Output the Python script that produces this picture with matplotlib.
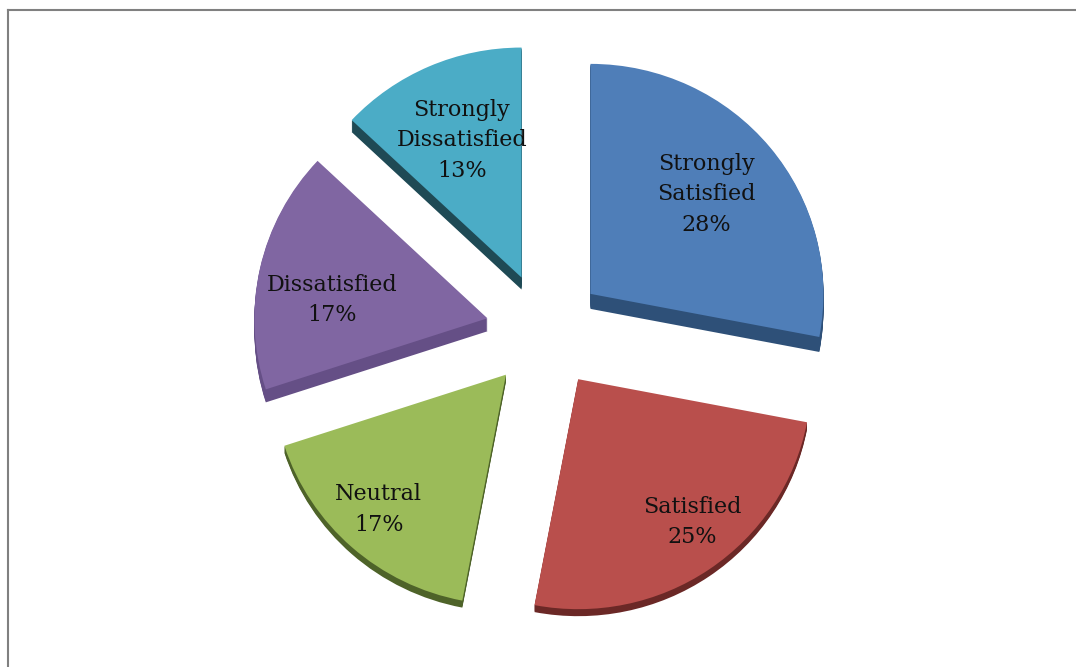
import numpy as np
import matplotlib.pyplot as plt
from matplotlib.lines import Line2D

# survey answers, clockwise from 12 o'clock
categories = ['Strongly\nSatisfied', 'Satisfied', 'Neutral', 'Dissatisfied', 'Strongly\nDissatisfied']
shares = [28, 25, 17, 17, 13]

face_colors = ['#4F7EB8', '#B94F4C', '#9BBB59', '#8066A2', '#4BACC6']
side_colors = ['#2E5078', '#6B2826', '#4E6329', '#654F86', '#1F4A55']
side_depth = [15, 7, 7, 13, 12]          # visible thickness of each slice, px
label_radius = [0.66, 0.79, 0.80, 0.67, 0.65]
label_turn = [-1.3, -4.0, 1.6, -5.8, 0.2]  # degrees off each slice's mid angle

W, H = 1076, 667
fig = plt.figure(figsize=(W / 100, H / 100), dpi=100)
ax = fig.add_axes([0, 0, 1, 1])

rx, ry = 233, 230        # pie radius in pixels (horizontal / vertical)
cx, cy = 545, 331        # pie centre in pixels from top-left
explode = [59 / rx] * len(shares)

pie_kw = dict(explode=explode, startangle=90, counterclock=False,
              wedgeprops=dict(linewidth=0))

# extruded sides: stack darker copies shifted downwards
for step in range(max(side_depth), 0, -1):
    wedges, _ = ax.pie(shares, colors=side_colors, center=(0, -step / ry), **pie_kw)
    for w, d in zip(wedges, side_depth):
        w.set_visible(step <= d)

# top faces
ax.pie(shares, colors=face_colors, center=(0, 0), **pie_kw)

# labels inside each slice
vals = np.array(shares, dtype=float)
cum = np.concatenate([[0], np.cumsum(vals)])
mid = 360 * (cum[:-1] + vals / 2) / vals.sum()   # clockwise from top
for name, v, t, ex, lr, turn in zip(categories, shares, mid, explode, label_radius, label_turn):
    a0 = np.deg2rad(90 - t)
    a1 = np.deg2rad(90 - t - turn)
    x = ex * np.cos(a0) + lr * np.cos(a1)
    y = ex * np.sin(a0) + lr * np.sin(a1)
    ax.text(x, y, f'{name}\n{v}%', ha='center', va='center',
            fontsize=16, family='DejaVu Serif', color='#111111', linespacing=1.5)

ax.set_aspect('auto')
ax.set_xlim(-cx / rx, (W - cx) / rx)
ax.set_ylim(-(H - cy) / ry, cy / ry)
ax.axis('off')

# chart frame (top and left edges)
fig.add_artist(Line2D([7.5 / W, 1], [1 - 9.5 / H] * 2, transform=fig.transFigure,
                      color='#808080', lw=1.5))
fig.add_artist(Line2D([7.5 / W] * 2, [0, 1 - 9.5 / H], transform=fig.transFigure,
                      color='#808080', lw=1.5))

fig.savefig('out.png', dpi=100, facecolor='white')
